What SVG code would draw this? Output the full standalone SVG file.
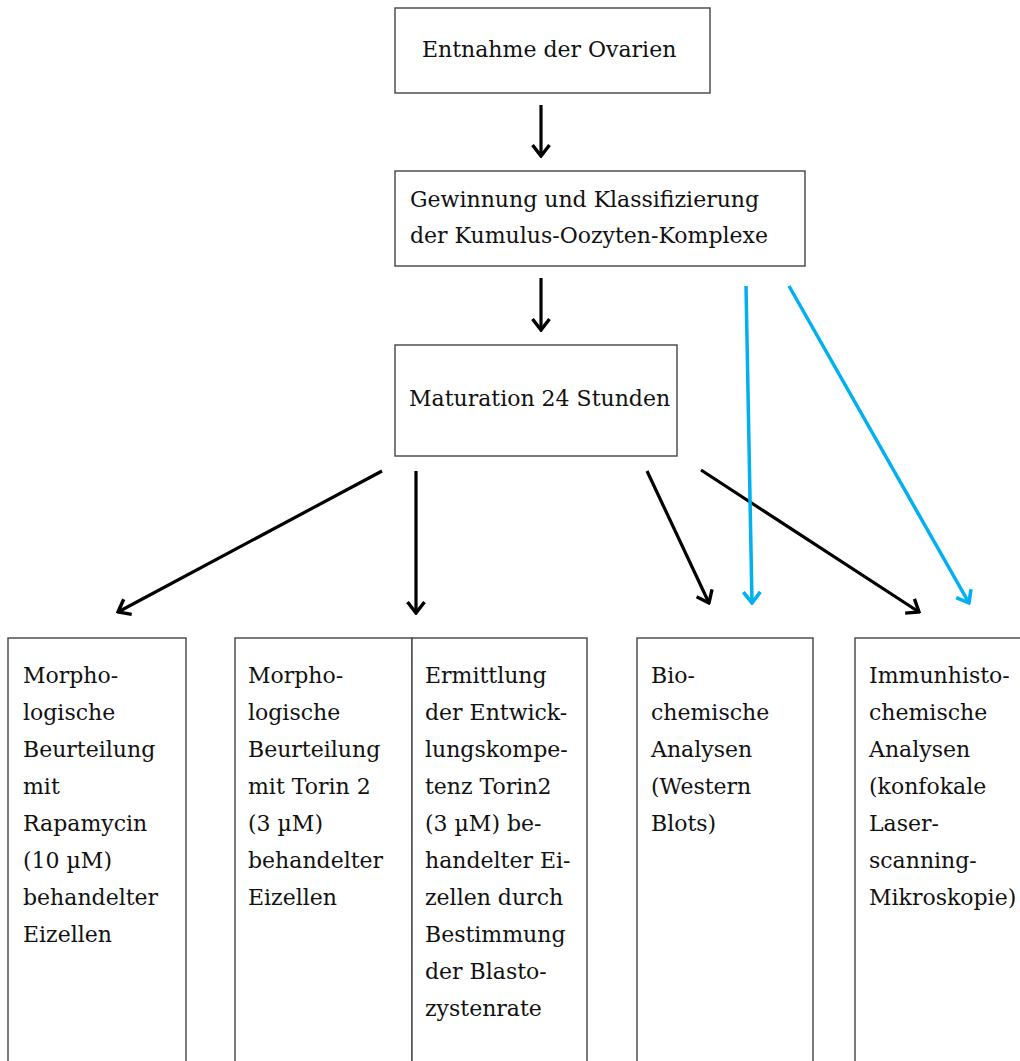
<svg xmlns="http://www.w3.org/2000/svg" width="1020" height="1061" viewBox="0 0 1020 1061">
<defs>
<style>
.box{fill:#fff;stroke:#444;stroke-width:1.4}
.t{font-family:"DejaVu Serif","Liberation Serif",serif;font-size:22px;fill:#111}
.k{stroke:#000;stroke-width:3.2;fill:none}
.b{stroke:#00B0F0;stroke-width:3.5;fill:none}
</style>
<marker id="ak" viewBox="-14 -11 16 22" refX="0" refY="0" markerWidth="16" markerHeight="22" markerUnits="userSpaceOnUse" orient="auto">
<path d="M-11,-8.5 L0,0 L-11,8.5" fill="none" stroke="#000" stroke-width="3.4"/>
</marker>
<marker id="ab" viewBox="-14 -11 16 22" refX="0" refY="0" markerWidth="16" markerHeight="22" markerUnits="userSpaceOnUse" orient="auto">
<path d="M-11,-8.5 L0,0 L-11,8.5" fill="none" stroke="#00B0F0" stroke-width="3.6"/>
</marker>
</defs>
<rect width="1020" height="1061" fill="#fff"/>
<g id="n1"><rect class="box" x="395" y="8" width="315" height="85"/><text class="t" x="422" y="57">Entnahme der Ovarien</text></g>
<g id="n2"><rect class="box" x="395" y="171" width="410" height="95"/><text class="t" x="410" y="207">Gewinnung und Klassifizierung</text><text class="t" x="410" y="243">der Kumulus-Oozyten-Komplexe</text></g>
<g id="n3"><rect class="box" x="395" y="345" width="282" height="111"/><text class="t" x="409" y="406">Maturation 24 Stunden</text></g>
<g id="n4"><rect class="box" x="8" y="638" width="178" height="440"/>
<text class="t" x="23" y="683">Morpho-</text><text class="t" x="23" y="720">logische</text><text class="t" x="23" y="757">Beurteilung</text><text class="t" x="23" y="794">mit</text><text class="t" x="23" y="831">Rapamycin</text><text class="t" x="23" y="868">(10 µM)</text><text class="t" x="23" y="905">behandelter</text><text class="t" x="23" y="942">Eizellen</text></g>
<g id="n5"><rect class="box" x="235" y="638" width="177" height="440"/>
<text class="t" x="248" y="683">Morpho-</text><text class="t" x="248" y="720">logische</text><text class="t" x="248" y="757">Beurteilung</text><text class="t" x="248" y="794">mit Torin 2</text><text class="t" x="248" y="831">(3 µM)</text><text class="t" x="248" y="868">behandelter</text><text class="t" x="248" y="905">Eizellen</text></g>
<g id="n6"><rect class="box" x="412" y="638" width="175" height="440"/>
<text class="t" x="425" y="683">Ermittlung</text><text class="t" x="425" y="720">der Entwick-</text><text class="t" x="425" y="757">lungskompe-</text><text class="t" x="425" y="794">tenz Torin2</text><text class="t" x="425" y="831">(3 µM) be-</text><text class="t" x="425" y="868">handelter Ei-</text><text class="t" x="425" y="905">zellen durch</text><text class="t" x="425" y="942">Bestimmung</text><text class="t" x="425" y="979">der Blasto-</text><text class="t" x="425" y="1016">zystenrate</text></g>
<g id="n7"><rect class="box" x="637" y="638" width="176" height="440"/>
<text class="t" x="651" y="683">Bio-</text><text class="t" x="651" y="720">chemische</text><text class="t" x="651" y="757">Analysen</text><text class="t" x="651" y="794">(Western</text><text class="t" x="651" y="831">Blots)</text></g>
<g id="n8"><rect class="box" x="855" y="638" width="180" height="440"/>
<text class="t" x="869" y="683">Immunhisto-</text><text class="t" x="869" y="720">chemische</text><text class="t" x="869" y="757">Analysen</text><text class="t" x="869" y="794">(konfokale</text><text class="t" x="869" y="831">Laser-</text><text class="t" x="869" y="868">scanning-</text><text class="t" x="869" y="905">Mikroskopie)</text></g>
<g id="connectors">
<line class="k" x1="541" y1="105" x2="541" y2="156" marker-end="url(#ak)"/>
<line class="k" x1="541" y1="278" x2="541" y2="330" marker-end="url(#ak)"/>
<line class="k" x1="382" y1="471" x2="118" y2="612" marker-end="url(#ak)"/>
<line class="k" x1="416" y1="471" x2="416" y2="613" marker-end="url(#ak)"/>
<line class="k" x1="647" y1="471" x2="709" y2="603" marker-end="url(#ak)"/>
<line class="k" x1="701" y1="470" x2="919" y2="612" marker-end="url(#ak)"/>
<line class="b" x1="746" y1="286" x2="752" y2="603" marker-end="url(#ab)"/>
<line class="b" x1="789" y1="286" x2="969" y2="603" marker-end="url(#ab)"/>
</g>
</svg>
